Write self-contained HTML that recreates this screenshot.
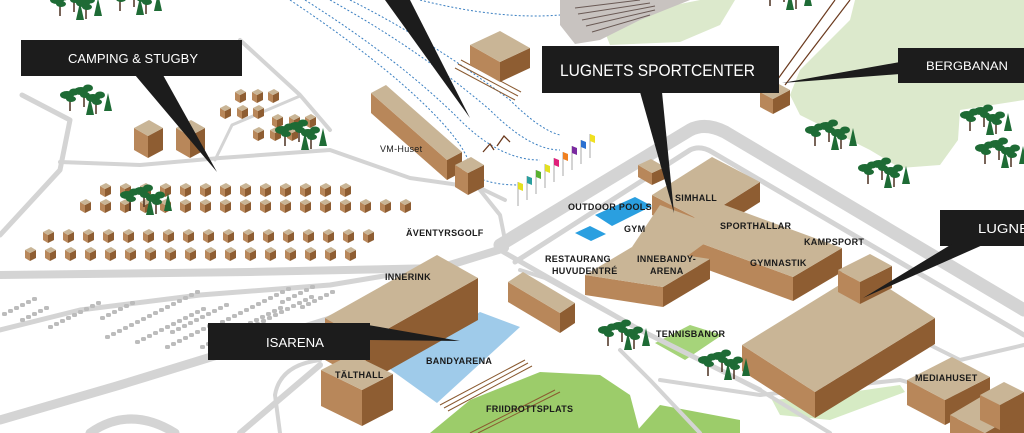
<!DOCTYPE html>
<html><head><meta charset="utf-8"><style>
html,body{margin:0;padding:0;background:#fff;width:1024px;height:433px;overflow:hidden}
svg{display:block;overflow:hidden}
.l{font-family:"Liberation Sans",sans-serif;font-size:9px;fill:#1a1a1a;font-weight:bold;letter-spacing:0.3px}
.w{font-family:"Liberation Sans",sans-serif;fill:#fff}
</style></head><body>
<svg id="s" width="1024" height="433" viewBox="0 0 1024 433" xmlns="http://www.w3.org/2000/svg">
<polygon points="855,0 1024,0 1024,100 960,110 958,140 940,165 900,168 870,150 800,115 790,95 800,70 850,20" fill="#dce9cc"/>
<polygon points="600,20 700,0 735,0 720,25 680,42 610,45" fill="#dce9cc"/>
<polygon points="430,433 470,400 540,372 600,375 630,395 640,433" fill="#9ccc6a"/>
<polygon points="635,433 660,405 740,420 740,433" fill="#9ccc6a"/>
<polygon points="655,343 690,325 722,335 685,360" fill="#a6d47a"/>
<polygon points="772,400 830,395 900,385 905,392 830,420 780,415" fill="#d6ebc4"/>
<polygon points="560,0 690,0 640,20 600,40 575,44 560,25" fill="#c8c3c0"/>
<g stroke="#6a5a55" stroke-width="1"><line x1="575" y1="8" x2="640" y2="0"/><line x1="578" y1="14" x2="650" y2="3"/><line x1="582" y1="20" x2="655" y2="6"/><line x1="586" y1="26" x2="655" y2="10"/><line x1="592" y1="32" x2="650" y2="15"/></g>
<g fill="none" stroke="#d4d4d4" stroke-linejoin="round" stroke-linecap="round">
<path d="M0,275 L250,272 L440,268 L505,248" stroke-width="8"/>
<path d="M500,245 L690,130 Q705,122 725,132 L1024,310" stroke-width="13"/>
<path d="M515,262 L690,150 Q700,145 712,152 L1024,335" stroke-width="5"/>
<path d="M500,250 L640,330 L760,390" stroke-width="5"/>
<path d="M520,270 L545,278 L640,330" stroke-width="4"/>
<path d="M0,330 L80,310 L200,295 L330,285 L420,270" stroke-width="5"/>
<path d="M0,420 L120,385 L250,345 L330,320 L420,280" stroke-width="9"/>
<path d="M90,433 Q130,405 175,433" stroke-width="9"/>
<path d="M240,433 L320,365" stroke-width="6"/>
<path d="M280,433 L275,395 Q280,365 320,360" stroke-width="4"/>
<path d="M620,350 L650,380 L700,433" stroke-width="4"/>
<path d="M660,380 L760,395 L900,380 L970,400 L990,433" stroke-width="4"/>
<path d="M760,390 L830,433" stroke-width="4"/>
<path d="M900,330 L960,360 L1024,345" stroke-width="4"/>
<path d="M22,95 L70,120 L60,170 L0,235" stroke-width="5"/>
<path d="M60,162 L140,165 L220,158 L330,150 L410,178 L480,188 L505,200" stroke-width="4"/>
<path d="M240,40 L300,95 L330,130" stroke-width="4"/>
<path d="M215,160 L232,125 L300,96" stroke-width="3"/>
<path d="M480,190 L500,215 L505,240" stroke-width="4"/>
</g>
<g fill="none" stroke="#3a7fc1" stroke-width="1" stroke-dasharray="2,2">
<path d="M290,0 Q380,60 430,110 Q470,150 470,170 Q480,185 520,185"/>
<path d="M305,0 Q400,60 460,120 Q500,160 540,160"/>
<path d="M330,0 Q420,50 490,110 Q530,150 560,150"/>
<path d="M350,0 Q430,40 510,100 Q540,130 560,135"/>
<path d="M420,0 Q500,20 560,15"/>
</g>
<line x1="835" y1="0" x2="775" y2="83" stroke="#6b3a1e" stroke-width="1.2"/>
<line x1="850" y1="0" x2="785" y2="85" stroke="#6b3a1e" stroke-width="1.2"/>
<g id="park"></g>
<polygon points="387,367 480,312 520,327 437,403" fill="#9fcbea"/>
<g stroke="#8a5a30" stroke-width="1"><line x1="372" y1="360" x2="470" y2="308"/><line x1="376" y1="364" x2="474" y2="311"/><line x1="380" y1="368" x2="478" y2="314"/>
<line x1="440" y1="405" x2="525" y2="360"/><line x1="444" y1="408" x2="528" y2="363"/><line x1="448" y1="411" x2="532" y2="366"/>
<line x1="455" y1="68" x2="515" y2="100"/><line x1="458" y1="64" x2="518" y2="96"/><line x1="461" y1="60" x2="521" y2="92"/>
<line x1="470" y1="433" x2="555" y2="390"/><line x1="478" y1="433" x2="560" y2="392"/></g>
<polygon points="595,215 635,197 652,206 612,226" fill="#2a9fe0"/>
<polygon points="575,233 590,226 606,234 591,241" fill="#2a9fe0"/>
<g id="bld"></g>
<g id="cab"></g>
<g id="tr"></g>
<g id="fl"></g>
<path d="M483,152 L490,144 L494,150 M497,146 L504,136 L510,142" fill="none" stroke="#6b3a1e" stroke-width="1.3"/>
<text class="l" x="380" y="152" style="font-weight:normal">VM-Huset</text>
<text class="l" x="406" y="236">ÄVENTYRSGOLF</text>
<text class="l" x="385" y="280">INNERINK</text>
<text class="l" x="426" y="364">BANDYARENA</text>
<text class="l" x="335" y="378">TÄLTHALL</text>
<text class="l" x="486" y="412">FRIIDROTTSPLATS</text>
<text class="l" x="568" y="210">OUTDOOR POOLS</text>
<text class="l" x="624" y="232">GYM</text>
<text class="l" x="675" y="201">SIMHALL</text>
<text class="l" x="720" y="229">SPORTHALLAR</text>
<text class="l" x="804" y="245">KAMPSPORT</text>
<text class="l" x="750" y="266">GYMNASTIK</text>
<text class="l" x="545" y="262">RESTAURANG</text>
<text class="l" x="552" y="274">HUVUDENTRÉ</text>
<text class="l" x="637" y="262">INNEBANDY-</text>
<text class="l" x="650" y="274">ARENA</text>
<text class="l" x="656" y="337">TENNISBANOR</text>
<text class="l" x="915" y="381">MEDIAHUSET</text>
<g fill="#1c1c1c">
<polygon points="385,0 410,0 470,118"/>
<rect x="21" y="40" width="221" height="36"/><polygon points="135,75 163,75 217,172"/>
<rect x="542" y="46" width="237" height="47"/><polygon points="640,92 662,92 674,213"/>
<rect x="898" y="48" width="126" height="35"/><polygon points="900,62 900,74 782,83"/>
<rect x="940" y="210" width="84" height="36"/><polygon points="952,244 985,244 863,298"/>
<rect x="208" y="323" width="162" height="37"/><polygon points="368,325 368,340 460,341"/>
</g>
<text class="w" x="68" y="63" font-size="13" textLength="130" lengthAdjust="spacingAndGlyphs">CAMPING &amp; STUGBY</text>
<text class="w" x="560" y="76" font-size="17" textLength="195" lengthAdjust="spacingAndGlyphs">LUGNETS SPORTCENTER</text>
<text class="w" x="926" y="70" font-size="12" textLength="82" lengthAdjust="spacingAndGlyphs">BERGBANAN</text>
<text class="w" x="978" y="233" font-size="13" textLength="60" lengthAdjust="spacingAndGlyphs">LUGNET</text>
<text class="w" x="266" y="347" font-size="13" textLength="58" lengthAdjust="spacingAndGlyphs">ISARENA</text>
</svg>
<script>
const NS="http://www.w3.org/2000/svg";
function P(g,pts,f){const p=document.createElementNS(NS,"polygon");p.setAttribute("points",pts.map(a=>a.join(",")).join(" "));p.setAttribute("fill",f);document.getElementById(g).appendChild(p);}
function box(g,A,D,C,h,roof){const B=[A[0]+C[0]-D[0],A[1]+C[1]-D[1]];
P(g,[A,D,[D[0],D[1]+h],[A[0],A[1]+h]],"#b8875a");
P(g,[D,C,[C[0],C[1]+h],[D[0],D[1]+h]],"#8e5d32");
P(g,[A,B,C,D],roof||"#c9b596");}
box("bld",[470,45],[500,62],[530,48],20);
box("bld",[371,93],[447,160],[462,152],20);
box("bld",[455,165],[468,173],[484,165],22);
box("bld",[760,92],[773,99],[790,90],15);
box("bld",[638,165],[652,173],[665,167],12);
box("bld",[134,128],[148,136],[163,128],22);
box("bld",[176,128],[190,136],[205,128],22);
box("bld",[325,318],[366,341],[478,278],42);
box("bld",[321,370],[362,390],[393,374],36);
box("bld",[508,282],[560,313],[575,303],20);
box("bld",[652,195],[700,220],[760,182],20);
box("bld",[670,232],[793,277],[842,248],24);
box("bld",[585,275],[663,287],[710,259],20);
P("bld",[[632,247],[660,205],[700,220],[712,238],[675,265]],"#c9b596");
box("bld",[742,345],[815,392],[935,318],26);
box("bld",[838,270],[860,282],[892,266],22);
box("bld",[907,380],[945,400],[990,377],25);
box("bld",[950,415],[985,433],[1024,410],25);
box("bld",[980,395],[1000,405],[1024,392],25);
function cab(x,y){box("cab",[x,y],[x+5,y+3],[x+11,y],8);}
for(let x=100;x<=345;x+=20)cab(x,186);
for(let x=80;x<=405;x+=20)cab(x,202);
for(let x=43;x<=372;x+=20)cab(x,232);
for(let x=25;x<=355;x+=20)cab(x,250);
[[235,92],[252,92],[268,92],[220,108],[237,108],[253,108],[272,117],[289,117],[305,117],[253,130],[270,130],[287,130]].forEach(a=>cab(a[0],a[1]));
const pk=document.getElementById("park");
function prow(x,y,n){for(let i=0;i<n;i++){const r=document.createElementNS(NS,"rect");r.setAttribute("x",x+i*6);r.setAttribute("y",y-i*3);r.setAttribute("width",5);r.setAttribute("height",4);r.setAttribute("rx",1.5);r.setAttribute("fill","#bcbcbc");pk.appendChild(r);}}
prow(2,312,6);prow(20,318,5);prow(48,325,9);prow(100,316,6);prow(105,335,16);prow(135,340,12);prow(165,345,8);prow(170,330,10);prow(200,345,14);prow(220,320,12);prow(255,322,10);prow(280,300,6);prow(300,305,6);
const tr=document.getElementById("tr");
function tree(x,y,s){s=s||1;const g=document.createElementNS(NS,"g");
g.innerHTML=`<line x1="${x}" y1="${y}" x2="${x}" y2="${y+16*s}" stroke="#4a3020" stroke-width="1.5"/><ellipse cx="${x-3*s}" cy="${y}" rx="${7*s}" ry="${4*s}" fill="#1e6b35"/><ellipse cx="${x+4*s}" cy="${y-3*s}" rx="${5*s}" ry="${3.5*s}" fill="#1e6b35"/><ellipse cx="${x+1}" cy="${y+4*s}" rx="${5*s}" ry="${3*s}" fill="#1e6b35"/>`;tr.appendChild(g);}
function pine(x,y){const g=document.createElementNS(NS,"polygon");g.setAttribute("points",`${x},${y} ${x-4},${y+18} ${x+4},${y+18}`);g.setAttribute("fill","#1e6b35");tr.appendChild(g);}
function cl(x,y){tree(x,y);tree(x+14,y-4);tree(x+26,y+3);pine(x+38,y-2);pine(x+20,y+2);}
cl(70,95);cl(285,130);cl(130,195);cl(60,0);cl(120,-5);cl(608,330);cl(708,360);cl(815,130);cl(868,168);cl(970,115);cl(985,148);cl(770,-10);
const cols=["#e3e020","#2a9f9f","#58b030","#e3e020","#e0207a","#f08020","#7a2aa0","#2a6fd0","#f0e020"];
const fl=document.getElementById("fl");
cols.forEach((c,i)=>{const x=518+i*9,y=182-i*6;const g=document.createElementNS(NS,"g");
g.innerHTML=`<line x1="${x}" y1="${y}" x2="${x}" y2="${y+24}" stroke="#aaa" stroke-width="1"/><polygon points="${x},${y} ${x+5},${y+2} ${x+5},${y+9} ${x},${y+7}" fill="${c}"/>`;fl.appendChild(g);});
</script>
</body></html>
